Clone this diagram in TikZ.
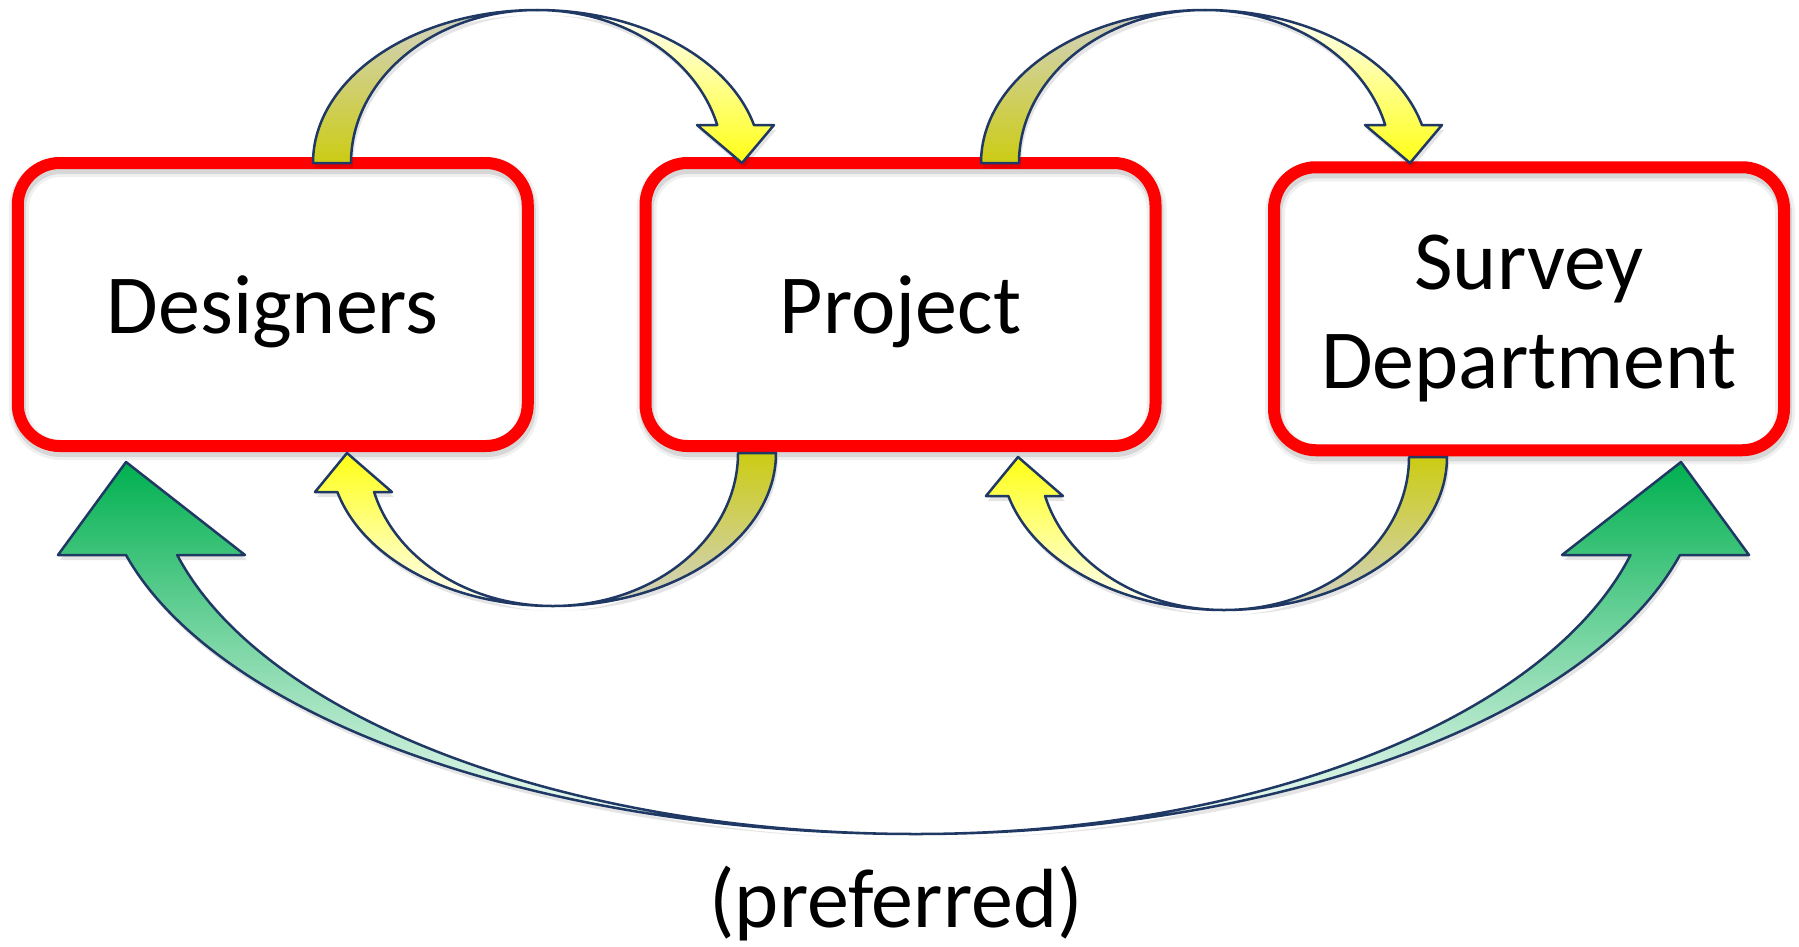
\documentclass[tikz,border=0pt]{standalone}
\usepackage{fontspec}
\setmainfont{Carlito}
\definecolor{navy}{HTML}{1F3864}
\definecolor{olivey}{HTML}{CCCC14}
\definecolor{beige}{HTML}{D2D2C8}
\definecolor{yel}{HTML}{FFFF14}
\definecolor{grn}{HTML}{00B050}
\definecolor{boxred}{HTML}{FF0000}
% top (curved-down) arrow, relative to ellipse centre
\newcommand\TAback[1]{\path[#1] (-224,0) arc[start angle=180,end angle=90,x radius=224pt,y radius=153pt] arc[start angle=90,end angle=180,x radius=186pt,y radius=153pt] -- cycle;}
\newcommand\TAfront[1]{\path[#1] (0,-153) arc[start angle=90,end angle=14.38,x radius=224pt,y radius=153pt] -- ++(20,0) -- (205,0) -- (160,-38) -- (180.2,-38) arc[start angle=14.38,end angle=90,x radius=186pt,y radius=153pt] -- cycle;}
% bottom (curved-up) arrow
\newcommand\BAback[1]{\path[#1] (223,0) arc[start angle=0,end angle=-90,x radius=223pt,y radius=153pt] arc[start angle=-90,end angle=0,x radius=185pt,y radius=153pt] -- cycle;}
\newcommand\BAfront[1]{\path[#1] (0,153) arc[start angle=270,end angle=194.77,x radius=223pt,y radius=153pt] -- (-238,39) -- (-206,0) -- (-161,39) -- (-178.9,39) arc[start angle=194.77,end angle=270,x radius=185pt,y radius=153pt] -- cycle;}
% green double arrow halves
\newcommand\GLeft[1]{\path[#1] (0,372) arc[start angle=270,end angle=194.48,x radius=816pt,y radius=372pt] -- (-858,93) -- (-790,0) -- (-671,93) -- (-738.8,93) arc[start angle=194.48,end angle=270,x radius=763pt,y radius=372pt] -- cycle;}
\newcommand\GRight[1]{\path[#1] (0,372) arc[start angle=270,end angle=345.52,x radius=789pt,y radius=372pt] -- (833,93) -- (765,0) -- (646,93) -- (714.5,93) arc[start angle=345.52,end angle=270,x radius=738pt,y radius=372pt] -- cycle;}
\newcommand\toparrow{%
  \TAback{shd}\TAfront{shd}%
  \TAback{shading=axis, top color=beige, bottom color=olivey, outl}%
  \TAfront{shading=axis, top color=white, bottom color=yel, outl}}
\newcommand\botarrow{%
  \BAback{shd}\BAfront{shd}%
  \BAback{shading=axis, top color=olivey, bottom color=beige, outl}%
  \BAfront{shading=axis, top color=yel, bottom color=white, outl}}
\begin{document}
\begin{tikzpicture}[x=1pt,y=-1pt,
  box/.style={draw=boxred, line width=12pt, rounded corners=42pt,
    minimum width=510pt, minimum height=283pt, inner sep=0pt,
    font=\fontsize{84}{99}\selectfont, align=center,
    preaction={draw=black, draw opacity=.06, line width=20pt, transform canvas={shift={(1pt,-4pt)}}},
    preaction={draw=black, draw opacity=.10, line width=14pt, transform canvas={shift={(1pt,-4pt)}}}},
  onel/.style={text height=57pt, text depth=0pt},
  outl/.style={draw=navy, line width=2.5pt, line join=round},
  shd/.style={fill=black, fill opacity=.10, shift={(2,5)}}]
\useasboundingbox (0,0) rectangle (1799,946);
\fill[white] (0,0) rectangle (1799,946);

\node[box, onel] (des)  at (272.75,304.5) {Designers};
\node[box, onel] (proj) at (900.5,304.5) {Project};
\node[box] (surv) at (1529,308.75) {\raisebox{-10pt}[\height][\depth]{\begin{tabular}{@{}c@{}}Survey\\Department\end{tabular}}};
\node[font=\fontsize{84}{99}\selectfont, anchor=base] (pref) at (896,927) {(preferred)};

\coordinate (t1) at (537,163);
\coordinate (t2) at (1205,163);
\coordinate (b1) at (553,453);
\coordinate (b2) at (1224,457);
\coordinate (g)  at (916,462);

\begin{scope}[shift={(t1)}] \toparrow \end{scope}
\begin{scope}[shift={(t2)}] \toparrow \end{scope}
\begin{scope}[shift={(b1)}] \botarrow \end{scope}
\begin{scope}[shift={(b2)}] \botarrow \end{scope}
\begin{scope}[shift={(g)}]
  \GLeft{shd}\GRight{shd}
  \GLeft{shading=axis, top color=grn, bottom color=grn!2, outl}
  \GRight{shading=axis, top color=grn, bottom color=grn!2, outl}
\end{scope}
\end{tikzpicture}
\end{document}
